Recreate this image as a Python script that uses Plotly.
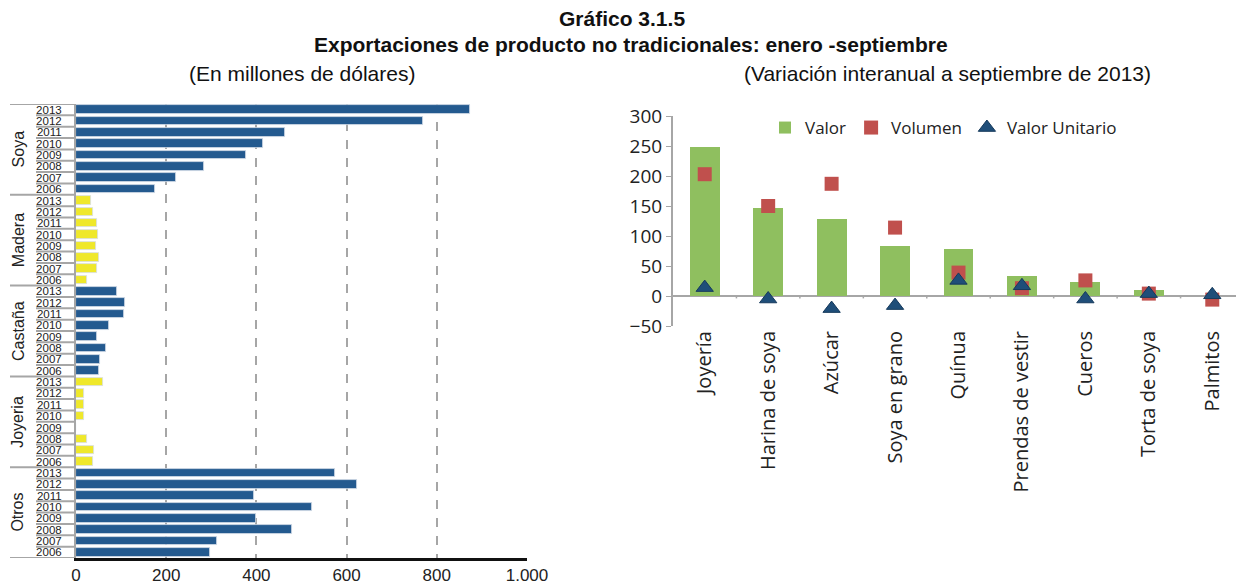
import plotly.graph_objects as go

# ---------------- Data: left chart (millones de dólares) ----------------
years = ["2013", "2012", "2011", "2010", "2009", "2008", "2007", "2006"]
groups = ["Soya", "Madera", "Castaña", "Joyeria", "Otros"]
soya = [873, 770, 464, 414, 378, 284, 222, 176]
madera = [34, 37, 46, 48, 44, 52, 46, 25]
castana = [91, 109, 107, 73, 47, 67, 53, 51]
joyeria = [59, 17, 17, 17, 0, 25, 41, 37]
otros = [574, 623, 395, 523, 399, 478, 313, 296]
group_values = [soya, madera, castana, joyeria, otros]
group_colors = ["#245a8f", "#efe82a", "#245a8f", "#efe82a", "#245a8f"]
x_ticks = [0, 200, 400, 600, 800, 1000]
x_ticktext = ["0", "200", "400", "600", "800", "1.000"]

# ---------------- Data: right chart (variación %) ----------------
products = ["Joyería", "Harina de soya", "Azúcar", "Soya en grano", "Quínua",
            "Prendas de vestir", "Cueros", "Torta de soya", "Palmitos"]
valor = [248, 146, 128, 83, 79, 34, 24, 10, 0]
volumen = [203, 150, 187, 114, 39, 13, 26, 4, -6]
valor_unitario = [14, -5, -21, -16, 26, 17, -5, 4, 2]

# page body has an 8px margin: figure is sized to the window minus that offset
OFF = 8
W, H = 1244 - OFF, 586 - OFF


def fx(p):
    return (p - OFF) / W


def fy(p):
    return 1 - (p - OFF) / H


fig = go.Figure()

n_years = len(years)
rows_total = n_years * len(groups)
for gi, (g, vals, col) in enumerate(zip(groups, group_values, group_colors)):
    fig.add_trace(go.Bar(
        x=vals, y=[gi * n_years + k for k in range(n_years)],
        orientation="h", marker=dict(color=col, line=dict(color="#d6dde8", width=0.8)),
        width=0.76, showlegend=False, xaxis="x", yaxis="y", name=g,
    ))

fig.add_trace(go.Bar(
    x=products, y=valor, name="Valor", marker=dict(color="#8fbf5f", line=dict(width=0)),
    width=0.47, xaxis="x2", yaxis="y2",
))
fig.add_trace(go.Scatter(
    x=products, y=volumen, name="Volumen", mode="markers",
    marker=dict(symbol="square", size=14, color="#c0504d"),
    xaxis="x2", yaxis="y2",
))
fig.add_trace(go.Scatter(
    x=products, y=valor_unitario, name="Valor Unitario", mode="markers",
    marker=dict(symbol="triangle-up", size=15, color="#1f4e79",
                line=dict(color="#163a5c", width=1)),
    xaxis="x2", yaxis="y2",
))

left_w = 527 - 76
shapes = []
# year separators on the left category axis
for r in range(rows_total + 1):
    is_group = (r % n_years == 0)
    shapes.append(dict(type="line", xref="x domain", yref="y",
                       x0=(10 - 76) / left_w if is_group else (36 - 76) / left_w, x1=0,
                       y0=r - 0.5, y1=r - 0.5,
                       line=dict(color="#a6a6a6", width=2)))
# small tick marks on the zero line of the right chart
for i in range(len(products) - 1):
    shapes.append(dict(type="line", xref="x2", yref="y2",
                       x0=i + 0.5, x1=i + 0.5, y0=0, y1=-4,
                       line=dict(color="#a6a6a6", width=1.5)))

annotations = []
for gi, g in enumerate(groups):
    annotations.append(dict(text=g, xref="x domain", yref="y",
                            x=(18 - 76) / left_w, y=gi * n_years + (n_years - 1) / 2,
                            xanchor="center", yanchor="middle",
                            textangle=-90, showarrow=False,
                            font=dict(family="Liberation Sans", size=16, color="#222")))

title_font = dict(family="Liberation Sans", size=21, color="#111")
annotations += [
    dict(text="<b>Gráfico 3.1.5</b>", xref="paper", yref="paper", x=fx(622), y=fy(18),
         xanchor="center", yanchor="middle", showarrow=False, font=title_font),
    dict(text="<b>Exportaciones de producto no tradicionales: enero -septiembre</b>",
         xref="paper", yref="paper", x=fx(631), y=fy(45),
         xanchor="center", yanchor="middle", showarrow=False, font=title_font),
    dict(text="(En millones de dólares)", xref="paper", yref="paper",
         x=fx(302), y=fy(74), xanchor="center", yanchor="middle",
         showarrow=False, font=title_font),
    dict(text="(Variación interanual a septiembre de 2013)", xref="paper", yref="paper",
         x=fx(947), y=fy(74), xanchor="center", yanchor="middle",
         showarrow=False, font=title_font),
]

fig.update_layout(
    template="none",
    width=W, height=H,
    margin=dict(l=0, r=0, t=0, b=0, autoexpand=False),
    paper_bgcolor="white", plot_bgcolor="white",
    bargap=0,
    shapes=shapes, annotations=annotations,
    xaxis=dict(domain=[fx(76), fx(527)], range=[0, 1000],
               tickvals=x_ticks, ticktext=x_ticktext, automargin=False,
               showgrid=True, griddash="dash", gridcolor="#a6a6a6", gridwidth=2,
               showline=True, linecolor="#111", linewidth=2.5, zeroline=False,
               ticks="", tickfont=dict(family="Liberation Sans", size=17, color="#222"),
               anchor="y"),
    yaxis=dict(domain=[fy(558), fy(104)], range=[rows_total - 0.5, -0.5],
               tickvals=list(range(rows_total)), ticktext=years * len(groups),
               automargin=False,
               showgrid=False, zeroline=False, showline=True, linecolor="#a6a6a6",
               linewidth=2, ticks="", ticklabelstandoff=10,
               tickfont=dict(family="Liberation Sans", size=11.5, color="#222"),
               anchor="x"),
    xaxis2=dict(domain=[fx(673), 1.0], range=[-0.5, len(products) - 0.5],
                automargin=False,
                showline=False, showgrid=False, zeroline=False, ticks="",
                tickangle=-90, tickfont=dict(family="Open Sans", size=20, color="#222"),
                anchor="y2"),
    yaxis2=dict(domain=[fy(326), fy(116)], range=[-50, 300],
                automargin=False,
                dtick=50, showgrid=False, zeroline=True, zerolinecolor="#a6a6a6",
                zerolinewidth=2, showline=True, linecolor="#a6a6a6", linewidth=2,
                ticks="outside", ticklen=5, tickcolor="#a6a6a6",
                tickfont=dict(family="Open Sans", size=19, color="#222"),
                anchor="x2"),
    legend=dict(orientation="h", x=fx(765), y=fy(110), xanchor="left",
                yanchor="top", font=dict(family="Open Sans", size=17, color="#222"),
                bgcolor="rgba(0,0,0,0)", itemwidth=30),
)

fig.write_html("out.html")
